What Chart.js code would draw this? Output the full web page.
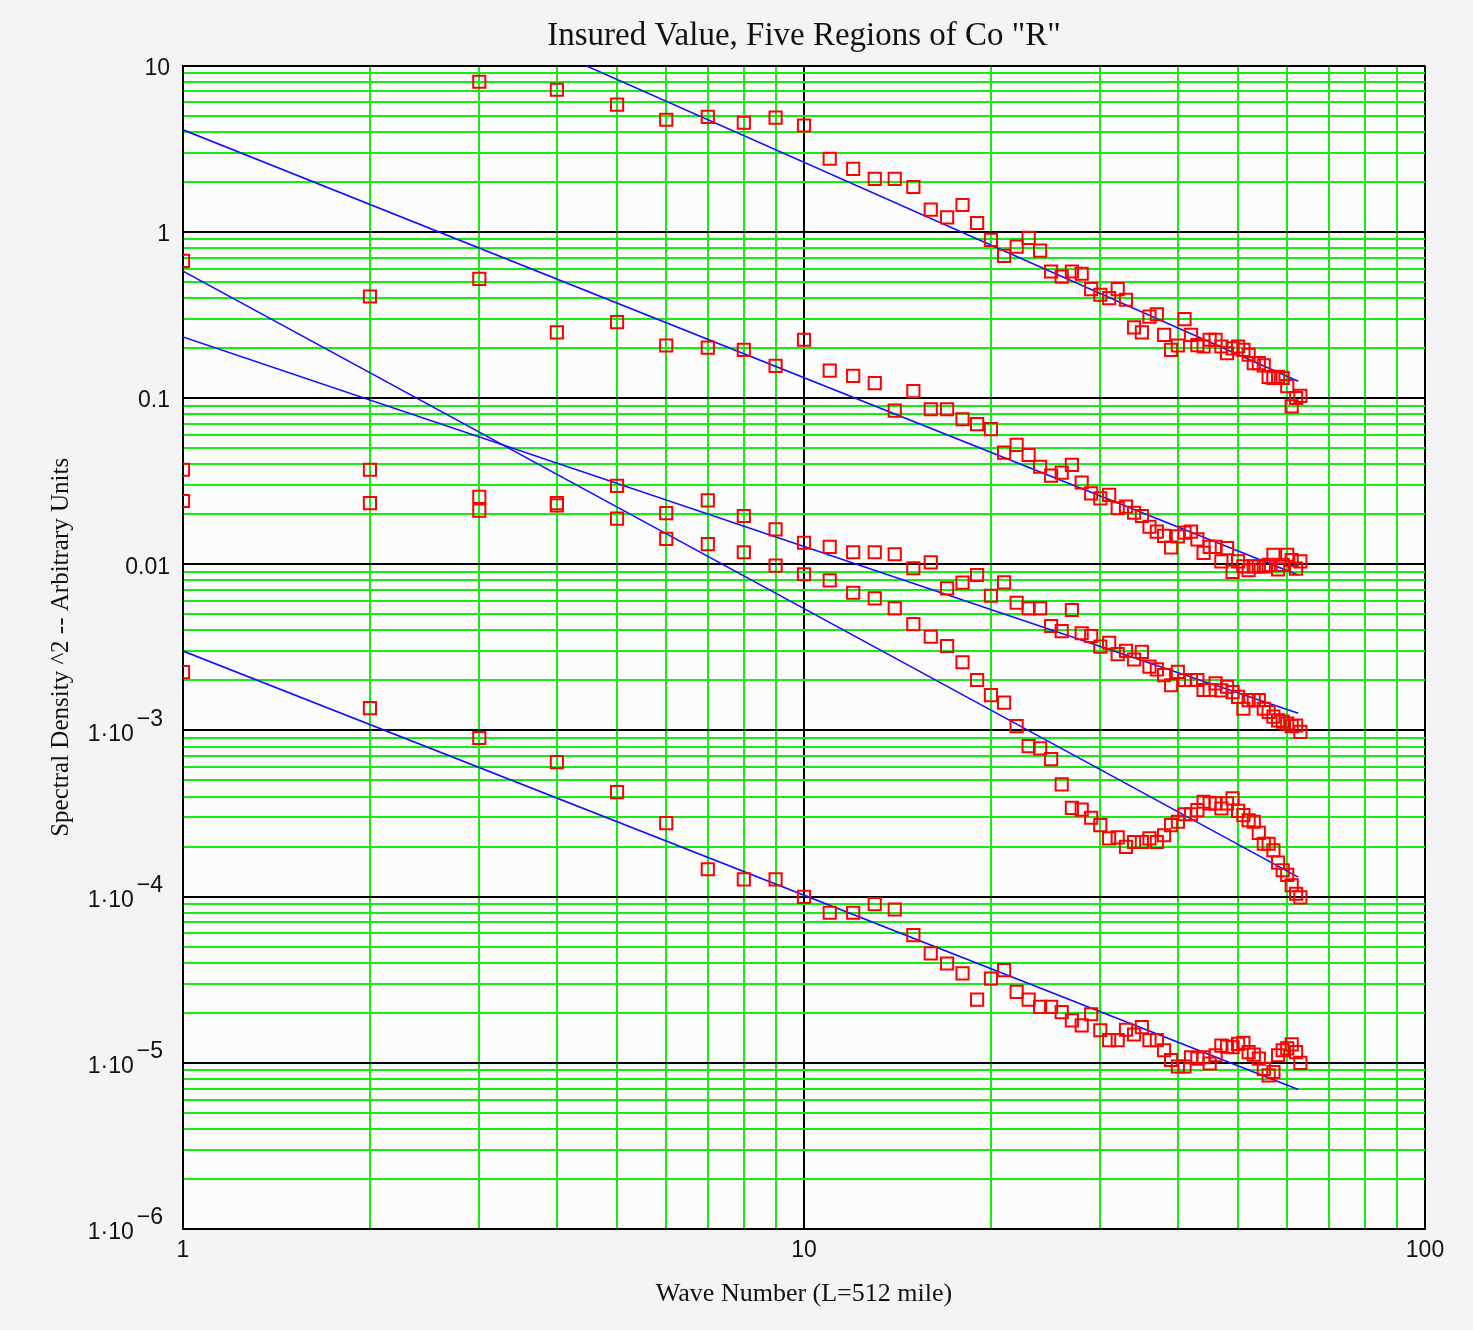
<!DOCTYPE html>
<html>
<head>
<meta charset="utf-8">
<title>Insured Value, Five Regions of Co "R"</title>
<script src="https://cdn.jsdelivr.net/npm/chart.js@4.4.1/dist/chart.umd.min.js"></script>
<style>
  html, body { margin:0; padding:0; background:#f4f4f4; }
  #wrap { width:1473px; height:1330px; }
</style>
</head>
<body>
<div id="wrap"><canvas id="myChart" width="1473" height="1330"></canvas></div>
<script>
//-------------datos------------------------------------//
const waveNumber = [1,2,3,4,5,6,7,8,9,10,11,12,13,14,15,16,17,18,19,20,21,22,23,24,25,26,27,28,29,30,
	31,32,33,34,35,36,37,38,39,40,41,42,43,44,45,46,47,48,49,50,51,52,53,54,55,56,57,58,59,60,61,62,63];

const regionA = [null,null,8.0,7.16,5.82,4.72,4.92,4.53,4.86,4.36,
	2.75,2.39,2.08,2.08,1.86,1.36,1.22,1.45,1.13,0.895,
	0.717,0.815,0.92,0.77,0.577,0.538,0.577,0.559,0.452,0.418,
	0.399,0.452,0.39,0.266,0.248,0.309,0.319,0.24,0.195,0.207,
	0.298,0.24,0.208,0.204,0.224,0.224,0.204,0.186,0.199,0.204,
	0.195,0.182,0.162,0.162,0.157,0.134,0.132,0.134,0.132,0.118,
	0.089,0.10,0.103];

const regionB = [0.669,0.408,0.521,0.248,0.286,0.207,0.201,0.195,0.156,0.224,
	0.146,0.136,0.123,0.084,0.110,0.0856,0.0856,0.0745,0.0696,0.0649,
	0.0469,0.0522,0.0454,0.0386,0.0341,0.0356,0.0396,0.031,0.0267,0.0249,
	0.0261,0.0217,0.0222,0.0204,0.0195,0.0168,0.0157,0.0148,0.0126,0.0147,
	0.0155,0.0157,0.0141,0.0117,0.0127,0.0127,0.0104,0.0125,0.0090,0.0104,
	0.0097,0.0092,0.0097,0.0097,0.0097,0.0099,0.0114,0.0093,0.0099,0.0114,
	0.0106,0.0094,0.0104];

const regionC = [0.024,0.0233,0.021,0.0226,0.0188,0.0142,0.0132,0.0118,0.0098,0.0087,
	0.0080,0.00673,0.00623,0.00542,0.00436,0.00366,0.00322,0.00257,0.00201,0.00163,
	0.00147,0.00106,8.04e-4,7.79e-4,6.71e-4,4.73e-4,3.42e-4,3.34e-4,2.98e-4,2.69e-4,
	2.24e-4,2.27e-4,1.99e-4,2.13e-4,2.13e-4,2.24e-4,2.13e-4,2.34e-4,2.69e-4,2.82e-4,
	3.13e-4,3.13e-4,3.31e-4,3.72e-4,3.64e-4,3.64e-4,3.39e-4,3.64e-4,3.90e-4,3.28e-4,
	3.09e-4,2.88e-4,2.82e-4,2.42e-4,2.08e-4,2.08e-4,1.90e-4,1.60e-4,1.44e-4,1.35e-4,
	1.17e-4,1.04e-4,9.9e-5];

const regionD = [0.037,0.037,0.0254,0.0233,0.0296,0.0203,0.0242,0.0195,0.0162,0.01346,
	0.0127,0.0118,0.0118,0.01148,0.00945,0.01026,0.00716,0.00774,0.00861,0.00646,
	0.00778,0.00586,0.00542,0.00542,0.00425,0.00396,0.0053,0.00384,0.0037,0.00319,
	0.00337,0.00288,0.00301,0.00267,0.00297,0.00242,0.00233,0.00215,0.00187,0.00225,
	0.00201,0.00201,0.00201,0.00175,0.00175,0.00192,0.00174,0.00183,0.0017,0.00159,
	0.00135,0.00152,0.00152,0.00152,0.00135,0.00129,0.00121,0.00115,0.00113,0.0011,
	0.00106,0.00107,0.00098];

const regionE = [2.24e-3,1.36e-3,9.0e-4,6.45e-4,4.25e-4,2.77e-4,1.46e-4,1.27e-4,1.27e-4,9.96e-5,
	8.0e-5,8.0e-5,9.0e-5,8.36e-5,5.86e-5,4.55e-5,3.96e-5,3.45e-5,2.40e-5,3.21e-5,
	3.61e-5,2.67e-5,2.40e-5,2.17e-5,2.17e-5,2.02e-5,1.80e-5,1.68e-5,1.96e-5,1.57e-5,
	1.37e-5,1.37e-5,1.58e-5,1.48e-5,1.64e-5,1.37e-5,1.37e-5,1.19e-5,1.04e-5,9.5e-6,
	9.5e-6,1.08e-5,1.06e-5,1.08e-5,9.9e-6,1.11e-5,1.27e-5,1.25e-5,1.24e-5,1.30e-5,
	1.32e-5,1.16e-5,1.12e-5,1.06e-5,9.2e-6,8.4e-6,8.8e-6,1.11e-5,1.19e-5,1.22e-5,
	1.29e-5,1.16e-5,1.0e-5];

// rectas de ajuste: punto inicial y final de cada una
const fitStartX = [4.45, 1, 1, 1, 1];
const fitStartY = [10, 4.11, 0.58, 0.233, 3.0e-3];
const fitEndX   = [62.5, 62.5, 62.5, 62.5, 62.5];
const fitEndY   = [0.126, 0.0086, 1.31e-4, 1.27e-3, 6.9e-6];

// ticks
const xTickValues = [1,2,3,4,5,6,7,8,9,10,20,30,40,50,60,70,80,90,100];
const xTickLabels = {1:'1', 10:'10', 100:'100'};
const yDecades    = [1e-6, 1e-5, 1e-4, 1e-3, 0.01, 0.1, 1, 10];
const yBaseLabels = ['1\u00b710','1\u00b710','1\u00b710','1\u00b710','0.01','0.1','1','10'];
const yExpLabels  = ['\u22126','\u22125','\u22124','\u22123','','','',''];
const yMinor      = [1,2,3,4,5,6,7,8,9];

//-----------------------------------------------//

function esDecada(v){
	const l = Math.log10(v);
	return Math.abs(l - Math.round(l)) < 1e-6;
}

function armarPuntos(serie){
	var pts = [];
	for (var i = 0; i < waveNumber.length; i++) {
		if (serie[i] != null) {
			pts.push({x: waveNumber[i], y: serie[i]});
		}
	}
	return pts;
}

function yTicks(){
	var t = [];
	for (var d = 0; d < yDecades.length - 1; d++) {
		for (var k = 0; k < yMinor.length; k++) {
			t.push({value: yDecades[d] * yMinor[k]});
		}
	}
	t.push({value: yDecades[yDecades.length - 1]});
	return t;
}

const fondoPlot = {
	id: 'fondoPlot',
	beforeDraw(chart){
		const a = chart.chartArea;
		chart.ctx.save();
		chart.ctx.fillStyle = '#fcfcfc';
		chart.ctx.fillRect(a.left, a.top, a.right - a.left, a.bottom - a.top);
		chart.ctx.restore();
	}
};

// etiquetas del eje y con exponente
const etiquetasY = {
	id: 'etiquetasY',
	afterDraw(chart){
		const ctx = chart.ctx;
		const sc = chart.scales.y;
		ctx.save();
		ctx.fillStyle = '#111';
		ctx.font = '23px "Liberation Sans"';
		ctx.textBaseline = 'middle';
		ctx.textAlign = 'right';
		for (var i = 0; i < yDecades.length; i++) {
			const py = sc.getPixelForValue(yDecades[i]);
			if (yExpLabels[i] == '') {
				ctx.fillText(yBaseLabels[i], 170, py + 3);
			} else {
				const w = ctx.measureText(yExpLabels[i]).width;
				ctx.fillText(yExpLabels[i], 163, py - 11);
				ctx.fillText(yBaseLabels[i], 163 - w - 3, py + 4);
			}
		}
		ctx.restore();
	}
};

function datasets(){
	var ds = [];
	const series = [regionA, regionB, regionC, regionD, regionE];
	for (var i = 0; i < series.length; i++) {
		ds.push({
			data: armarPuntos(series[i]),
			showLine: false,
			pointStyle: 'rect',
			pointRadius: 8.6,
			pointBorderWidth: 2,
			pointBorderColor: '#ff0000',
			pointBackgroundColor: 'rgba(0,0,0,0)',
			order: 1
		});
	}
	for (var j = 0; j < fitStartX.length; j++) {
		ds.push({
			data: [{x: fitStartX[j], y: fitStartY[j]}, {x: fitEndX[j], y: fitEndY[j]}],
			showLine: true,
			borderColor: '#1010ff',
			borderWidth: 1.6,
			pointRadius: 0,
			order: 2
		});
	}
	return ds;
}

function colorGrid(c){
	if (c.tick && esDecada(c.tick.value)) return '#000000';
	return '#14ec14';
}

const ctx = document.getElementById('myChart').getContext('2d');
const myChart = new Chart(ctx, {
	type: 'scatter',
	data: { datasets: datasets() },
	plugins: [fondoPlot, etiquetasY],
	options: {
		responsive: false,
		animation: false,
		devicePixelRatio: 1,
		events: [],
		layout: { padding: { left: 42, right: 48, top: 0, bottom: 20 } },
		plugins: {
			legend: { display: false },
			tooltip: { enabled: false },
			title: {
				display: true,
				fullSize: false,
				text: 'Insured Value, Five Regions of Co "R"',
				color: '#111',
				font: { family: 'Liberation Serif', size: 33, weight: 'normal' },
				padding: { top: 17, bottom: 9 }
			}
		},
		scales: {
			x: {
				type: 'logarithmic',
				min: 1,
				max: 100,
				afterBuildTicks: function(sc){ sc.ticks = xTickValues.map(function(v){ return {value: v}; }); },
				afterFit: function(sc){ sc.height = 81; },
				ticks: {
					autoSkip: false,
					maxRotation: 0,
					padding: 8,
					color: '#111',
					font: { family: 'Liberation Sans', size: 23 },
					callback: function(v){ return xTickLabels[v] || ''; }
				},
				grid: { color: colorGrid, lineWidth: 2, drawTicks: false },
				border: { display: true, color: '#000', width: 2 },
				title: {
					display: true,
					text: 'Wave Number (L=512 mile)',
					color: '#111',
					font: { family: 'Liberation Serif', size: 26 },
					padding: { top: 4, bottom: 0 }
				}
			},
			y: {
				type: 'logarithmic',
				min: 1e-6,
				max: 10,
				afterBuildTicks: function(sc){ sc.ticks = yTicks(); },
				afterFit: function(sc){ sc.width = 141; },
				ticks: { display: false },
				grid: { color: colorGrid, lineWidth: 2, drawTicks: false },
				border: { display: true, color: '#000', width: 2 },
				title: {
					display: true,
					text: 'Spectral Density ^2 -- Arbitrary Units',
					color: '#111',
					font: { family: 'Liberation Serif', size: 25 },
					padding: { top: 4, bottom: 0 }
				}
			}
		}
	}
});
</script>
</body>
</html>
